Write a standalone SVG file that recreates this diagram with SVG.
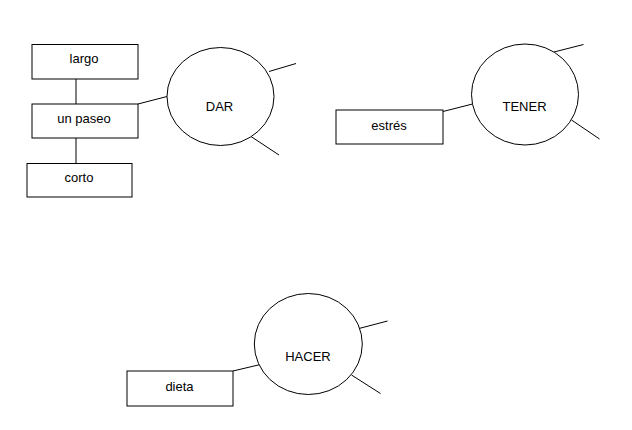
<svg xmlns="http://www.w3.org/2000/svg" width="632" height="430" viewBox="0 0 632 430">
<style>
.box{fill:#fff;stroke:#000;stroke-width:1}
.circ{fill:#fff;stroke:#000;stroke-width:1}
.lbl{font-family:"Liberation Sans",Arial,sans-serif;font-size:13px;fill:#000;text-anchor:middle}
.conn line{stroke:#000;stroke-width:1}
</style>
<rect width="632" height="430" fill="#fff"/>
<g class="conn" id="connectors">
<line x1="76" y1="79" x2="76" y2="104"/>
<line x1="76" y1="138" x2="76" y2="163"/>
<line x1="138" y1="104" x2="167" y2="96.5"/>
<line x1="269" y1="71.5" x2="296" y2="63.5"/>
<line x1="251" y1="136.5" x2="279" y2="155"/>
<line x1="443" y1="111.5" x2="472.5" y2="104"/>
<line x1="554" y1="52" x2="583.5" y2="44.5"/>
<line x1="571.5" y1="120" x2="599.5" y2="139"/>
<line x1="233" y1="371" x2="262.5" y2="364"/>
<line x1="359" y1="328.5" x2="387.5" y2="321"/>
<line x1="351.5" y1="375" x2="380.5" y2="393.5"/>
</g>
<g id="largo"><rect class="box" x="32" y="44.5" width="106" height="34.5"/><text class="lbl" x="84" y="63">largo</text></g>
<g id="unpaseo"><rect class="box" x="32" y="104" width="106" height="34"/><text class="lbl" x="84" y="123">un paseo</text></g>
<g id="corto"><rect class="box" x="27" y="163.5" width="105" height="33.5"/><text class="lbl" x="79" y="182">corto</text></g>
<g id="dar"><ellipse class="circ" cx="220.5" cy="96.5" rx="53.5" ry="49"/><text class="lbl" x="219.5" y="111">DAR</text></g>
<g id="estres"><rect class="box" x="336" y="110" width="107" height="34"/><text class="lbl" x="389" y="129.5">estrés</text></g>
<g id="tener"><ellipse class="circ" cx="525" cy="94.5" rx="53.5" ry="50.5"/><text class="lbl" x="524.5" y="110.5">TENER</text></g>
<g id="dieta"><rect class="box" x="127" y="371" width="106" height="35"/><text class="lbl" x="179.5" y="390.5">dieta</text></g>
<g id="hacer"><ellipse class="circ" cx="308.3" cy="344" rx="54" ry="50.5"/><text class="lbl" x="308" y="360.5">HACER</text></g>
</svg>
